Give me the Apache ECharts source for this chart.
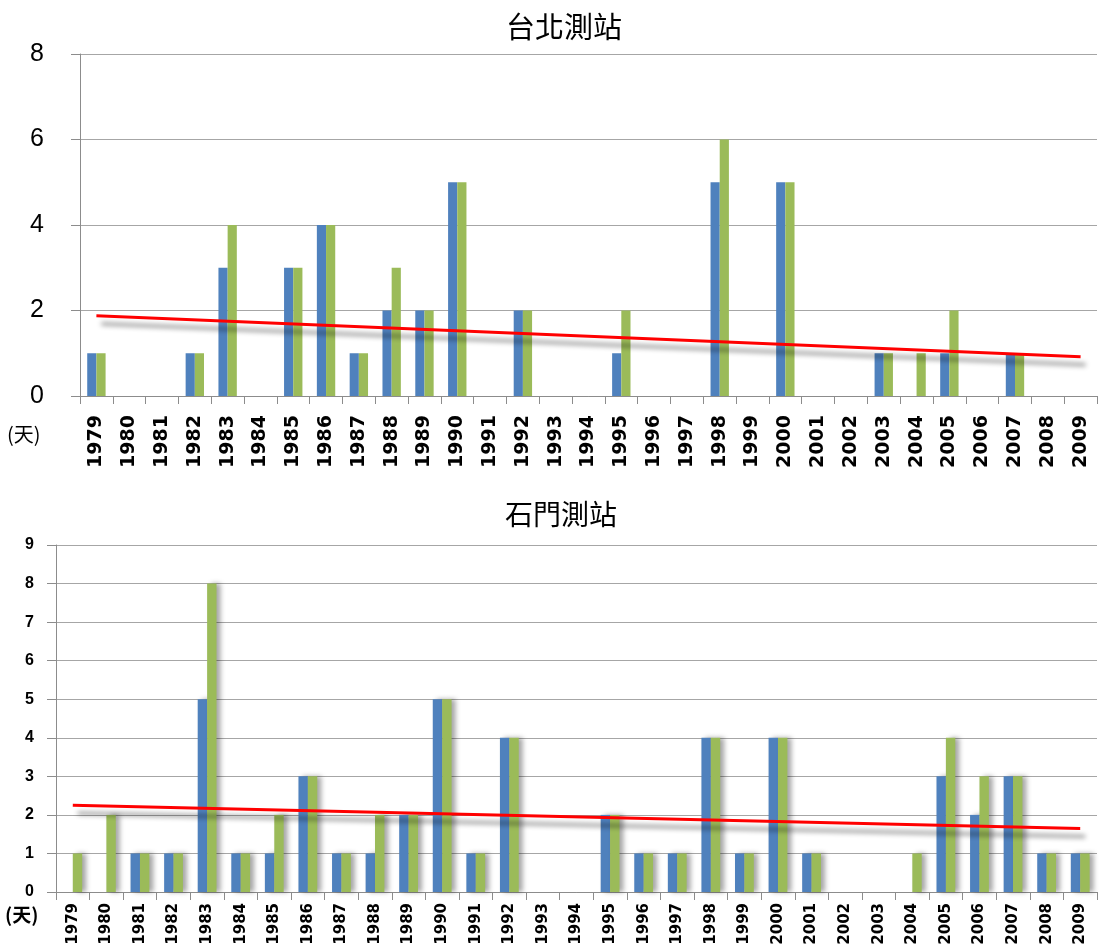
<!DOCTYPE html>
<html>
<head>
<meta charset="utf-8">
<script src="https://cdn.jsdelivr.net/npm/echarts@6/dist/echarts.min.js"></script>
<style>
html,body{margin:0;padding:0;background:#fff;}
#chart{width:1099px;height:949px;}
</style>
</head>
<body>
<div id="chart"></div>
<script>
// ---- data ----
const years = ['1979','1980','1981','1982','1983','1984','1985','1986','1987','1988','1989','1990','1991','1992','1993','1994','1995','1996','1997','1998','1999','2000','2001','2002','2003','2004','2005','2006','2007','2008','2009'];

const taipeiTitle = '台北測站';
const shimenTitle = '石門測站';
const unitLabel = '(天)';

const taipeiBlue  = [1,0,0,1,3,0,3,4,1,2,2,5,0,2,0,0,1,0,0,5,0,5,0,0,1,0,1,0,1,0,0];
const taipeiGreen = [1,0,0,1,4,0,3,4,1,3,2,5,0,2,0,0,2,0,0,6,0,5,0,0,1,1,2,0,1,0,0];
const taipeiTrend = [['1979',1.88],['2009',0.92]];

const shimenBlue  = [0,0,1,1,5,1,1,3,1,1,2,5,1,4,0,0,2,1,1,4,1,4,1,0,0,0,3,2,3,1,1];
const shimenGreen = [1,2,1,1,8,1,2,3,1,2,2,5,1,4,0,0,2,1,1,4,1,4,1,0,0,1,4,3,3,1,1];
const shimenTrend = [['1979',2.25],['2009',1.65]];

const taipeiTicks = {min:0, max:8, interval:2};
const shimenTicks = {min:0, max:9, interval:1};

// ---- chart ----
const BLUE = '#4F81BD', GREEN = '#9BBB59', RED = '#FF0000';
const chart = echarts.init(document.getElementById('chart'));

const cjk = '"Noto Sans CJK TC","Noto Sans CJK SC",sans-serif';
const num = '"Liberation Sans",Arial,sans-serif';
const wide = '"DejaVu Sans",sans-serif';

function xAxis(gridIndex, fontSize, margin) {
  return {
    type:'category', gridIndex, data: years,
    axisLine:{lineStyle:{color:'#8c8c8c', width:1}},
    axisTick:{show:true, length:8, lineStyle:{color:'#8c8c8c'}},
    axisLabel:{rotate:90, interval:0, color:'#000', fontFamily:wide, fontWeight:'bold', fontSize, margin}
  };
}
function yAxis(gridIndex, ticks, fontSize, weight, margin) {
  return {
    type:'value', gridIndex, min:ticks.min, max:ticks.max, interval:ticks.interval,
    axisLine:{show:true, lineStyle:{color:'#8c8c8c', width:1}},
    axisTick:{show:true, length:9, lineStyle:{color:'#8c8c8c'}},
    splitLine:{show:true, lineStyle:{color:'#a6a6a6', width:1.2}},
    axisLabel:{color:'#000', fontFamily:num, fontSize, fontWeight:weight, margin}
  };
}

const barShadow = {shadowColor:'rgba(0,0,0,0.35)', shadowBlur:5, shadowOffsetX:4, shadowOffsetY:0};
const trendStyle = {color:RED, width:3, shadowColor:'rgba(0,0,0,0.45)', shadowBlur:5, shadowOffsetX:5, shadowOffsetY:8};

chart.setOption({
  animation:false,
  backgroundColor:'#fff',
  title:[
    {text:taipeiTitle, left:501, top:7, textStyle:{fontFamily:cjk, fontSize:29, fontWeight:'normal', color:'#000'}},
    {text:shimenTitle, left:500, top:495, textStyle:{fontFamily:cjk, fontSize:28, fontWeight:'normal', color:'#000'}}
  ],
  grid:[
    {left:80, right:2, top:54, height:342},
    {left:56, right:2, top:545, height:347}
  ],
  xAxis:[xAxis(0, 19, 19), xAxis(1, 15, 11)],
  yAxis:[yAxis(0, taipeiTicks, 25, 'normal', 36), yAxis(1, shimenTicks, 16, 'bold', 22)],
  graphic:[
    {type:'text', left:7, top:424, style:{text:unitLabel, fontFamily:cjk, fontSize:20, fill:'#000'}},
    {type:'text', left:5, top:905, style:{text:unitLabel, fontFamily:cjk, fontSize:19, fontWeight:'bold', fill:'#000'}}
  ],
  series:[
    {type:'bar', xAxisIndex:0, yAxisIndex:0, data:taipeiBlue, barWidth:'28%', barGap:'0%', itemStyle:{color:BLUE}},
    {type:'bar', xAxisIndex:0, yAxisIndex:0, data:taipeiGreen, barWidth:'28%', barGap:'0%', itemStyle:{color:GREEN}},
    {type:'line', xAxisIndex:0, yAxisIndex:0, data:taipeiTrend, symbol:'none', z:5, lineStyle:trendStyle},
    {type:'bar', xAxisIndex:1, yAxisIndex:1, data:shimenBlue, barWidth:'28%', barGap:'0%', itemStyle:Object.assign({color:BLUE}, barShadow)},
    {type:'bar', xAxisIndex:1, yAxisIndex:1, data:shimenGreen, barWidth:'28%', barGap:'0%', itemStyle:Object.assign({color:GREEN}, barShadow)},
    {type:'line', xAxisIndex:1, yAxisIndex:1, data:shimenTrend, symbol:'none', z:5, lineStyle:trendStyle}
  ]
});
</script>
</body>
</html>
